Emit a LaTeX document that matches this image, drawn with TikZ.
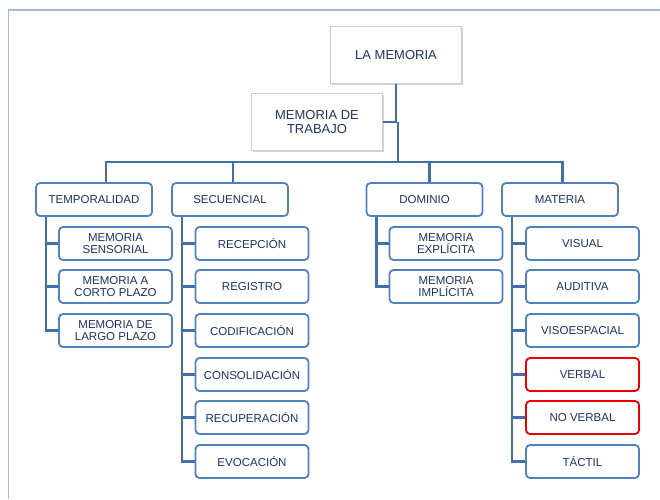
\documentclass[tikz,border=0pt]{standalone}
\usepackage{fontspec}
\setmainfont{Liberation Sans}
\usetikzlibrary{shadows}
\definecolor{boxblue}{RGB}{79,129,189}
\definecolor{linkblue}{RGB}{66,110,170}
\definecolor{textnavy}{RGB}{28,52,96}
\definecolor{frameblue}{RGB}{160,186,220}
\definecolor{alertred}{RGB}{235,0,0}

\begin{document}
\begin{tikzpicture}[x=1pt, y=-1pt,
    topbox/.style={draw=gray!40, fill=white, line width=0.8pt,
        minimum width=131pt, minimum height=57pt, align=center,
        text=textnavy, font=\fontsize{13}{13.3}\selectfont,
        drop shadow={shadow xshift=1.5pt, shadow yshift=-1.5pt, opacity=0.35}},
    catbox/.style={draw=boxblue, fill=white, line width=1.8pt, rounded corners=4pt,
        minimum width=116pt, minimum height=33pt, align=center, inner sep=1pt,
        text=textnavy, font=\fontsize{11.5}{11.2}\selectfont},
    itembox/.style={catbox, minimum width=113pt},
    redbox/.style={itembox, draw=alertred},
    link/.style={draw=linkblue, line width=2.4pt}]
    \useasboundingbox (0,0) rectangle (660,499);

    % Frame
    \draw[frameblue, line width=1.7pt] (8.5,499) -- (8.5,10) -- (660,10);

    % Top boxes
    \node[topbox] (lamem) at (396,55) {LA MEMORIA};
    \node[topbox] (trabajo) at (317,122) {MEMORIA DE\\TRABAJO};

    % Categories
    \node[catbox] (temp) at (94,199.5) {TEMPORALIDAD};
    \node[catbox] (secu) at (230,199.5) {SECUENCIAL};
    \node[catbox] (domi) at (424.5,199.5) {DOMINIO};
    \node[catbox] (mate) at (560,199.5) {MATERIA};

    % Temporalidad items
    \node[itembox] (sens) at (115.5,243.5) {MEMORIA\\SENSORIAL};
    \node[itembox] (corto) at (115.5,286.5) {MEMORIA A\\CORTO PLAZO};
    \node[itembox] (largo) at (115.5,330.5) {MEMORIA DE\\LARGO PLAZO};

    % Secuencial items
    \node[itembox] (recep) at (252,243.5) {RECEPCIÓN};
    \node[itembox] (regis) at (252,286.5) {REGISTRO};
    \node[itembox] (codif) at (252,330.5) {CODIFICACIÓN};
    \node[itembox] (conso) at (252,374.5) {CONSOLIDACIÓN};
    \node[itembox] (recup) at (252,417.5) {RECUPERACIÓN};
    \node[itembox] (evoca) at (252,461.5) {EVOCACIÓN};

    % Dominio items
    \node[itembox] (expli) at (446,243.5) {MEMORIA\\EXPLÍCITA};
    \node[itembox] (impli) at (446,286.5) {MEMORIA\\IMPLÍCITA};

    % Materia items (two in red)
    \node[itembox] (visu) at (582.5,243.5) {VISUAL};
    \node[itembox] (audi) at (582.5,286.5) {AUDITIVA};
    \node[itembox] (visoe) at (582.5,330.5) {VISOESPACIAL};
    \node[redbox] (verb) at (582.5,374.5) {VERBAL};
    \node[redbox] (noverb) at (582.5,417.5) {NO VERBAL};
    \node[itembox] (tact) at (582.5,461.5) {TÁCTIL};

    % Links from the top
    \coordinate (bus) at (398,162);
    \draw[link] (lamem.south) |- (trabajo.east);
    \draw[link] (bus |- trabajo.east) -- (bus);
    \draw[link] ([xshift=11.7pt]temp.north) |- (bus);
    \draw[link] ([xshift=3pt]secu.north) |- (bus);
    \draw[link] ([xshift=4.8pt]domi.north) |- (bus);
    \draw[link] ([xshift=2.3pt]mate.north) |- (bus);

    % Links to the items
    \draw[link] ([xshift=11pt]temp.south west) |- (sens.west);
    \draw[link] ([xshift=11pt]temp.south west) |- (corto.west);
    \draw[link] ([xshift=11pt]temp.south west) |- (largo.west);
    \draw[link] ([xshift=11pt]secu.south west) |- (recep.west);
    \draw[link] ([xshift=11pt]secu.south west) |- (regis.west);
    \draw[link] ([xshift=11pt]secu.south west) |- (codif.west);
    \draw[link] ([xshift=11pt]secu.south west) |- (conso.west);
    \draw[link] ([xshift=11pt]secu.south west) |- (recup.west);
    \draw[link] ([xshift=11pt]secu.south west) |- (evoca.west);
    \draw[link] ([xshift=11pt]domi.south west) |- (expli.west);
    \draw[link] ([xshift=11pt]domi.south west) |- (impli.west);
    \draw[link] ([xshift=11pt]mate.south west) |- (visu.west);
    \draw[link] ([xshift=11pt]mate.south west) |- (audi.west);
    \draw[link] ([xshift=11pt]mate.south west) |- (visoe.west);
    \draw[link] ([xshift=11pt]mate.south west) |- (verb.west);
    \draw[link] ([xshift=11pt]mate.south west) |- (noverb.west);
    \draw[link] ([xshift=11pt]mate.south west) |- (tact.west);
\end{tikzpicture}
\end{document}
